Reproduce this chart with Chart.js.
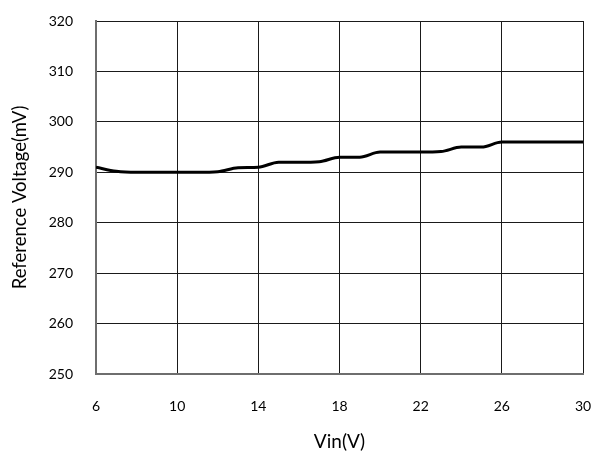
<!DOCTYPE html>
<html>
<head>
<meta charset="utf-8">
<script src="https://cdn.jsdelivr.net/npm/chart.js@4.4.1/dist/chart.umd.min.js"></script>
<style>
html,body{margin:0;padding:0;background:#fff;}
#wrap{width:597px;height:461px;position:relative;}
</style>
</head>
<body>
<div id="wrap"><canvas id="c"></canvas></div>
<script>
const vin = [6,7,8,9,10,11,12,13,14,15,16,17,18,19,20,21,22,23,24,25,26,27,28,29,30];
const vref = [291,290.2,290,290,290,290,290.1,290.9,291,292,292,292.1,293,293,294,294,294,294.1,295,295,296,296,296,296,296];
const xTicks = [6,10,14,18,22,26,30];
const yTicks = [250,260,270,280,290,300,310,320];
const xTitle = 'Vin(V)';
const yTitle = 'Reference Voltage(mV)';

const FONT = 'Lato, "Open Sans", sans-serif';

new Chart(document.getElementById('c'), {
  type: 'line',
  data: {
    datasets: [{
      data: vin.map((v,i)=>({x:v,y:vref[i]})),
      borderColor: '#000',
      borderWidth: 3,
      pointRadius: 0,
      fill: false,
      cubicInterpolationMode: 'monotone'
    }]
  },
  options: {
    responsive: true,
    maintainAspectRatio: false,
    animation: false,
    layout: {padding: {top: 21, right: 14, left: 0, bottom: 0}},
    plugins: {legend: {display: false}, tooltip: {enabled: false}},
    scales: {
      x: {
        type: 'linear', min: 6, max: 30,
        afterBuildTicks: s => { s.ticks = xTicks.map(v=>({value:v})); },
        afterFit: s => { s.height = 87; s.paddingLeft = 0; s.paddingRight = 0; },
        grid: {color: '#1a1a1a', lineWidth: 1, drawTicks: false},
        border: {color: '#6e6e6e', width: 2},
        ticks: {padding: 24, color: '#000', font: {family: FONT, size: 14}, maxRotation: 0},
        title: {display: true, text: xTitle, color: '#000', font: {family: FONT, size: 19}, padding: {top: 0, bottom: 8}}
      },
      y: {
        min: 250, max: 320,
        afterBuildTicks: s => { s.ticks = yTicks.map(v=>({value:v})); },
        afterFit: s => { s.width = 96; s.paddingTop = 0; s.paddingBottom = 0; },
        grid: {color: '#1a1a1a', lineWidth: 1, drawTicks: false},
        border: {color: '#6e6e6e', width: 2},
        ticks: {padding: 23, color: '#000', font: {family: FONT, size: 14}},
        title: {display: true, text: yTitle, color: '#000', font: {family: FONT, size: 18.5}, padding: {top: 9, bottom: 0}}
      }
    }
  }
});
</script>
</body>
</html>
